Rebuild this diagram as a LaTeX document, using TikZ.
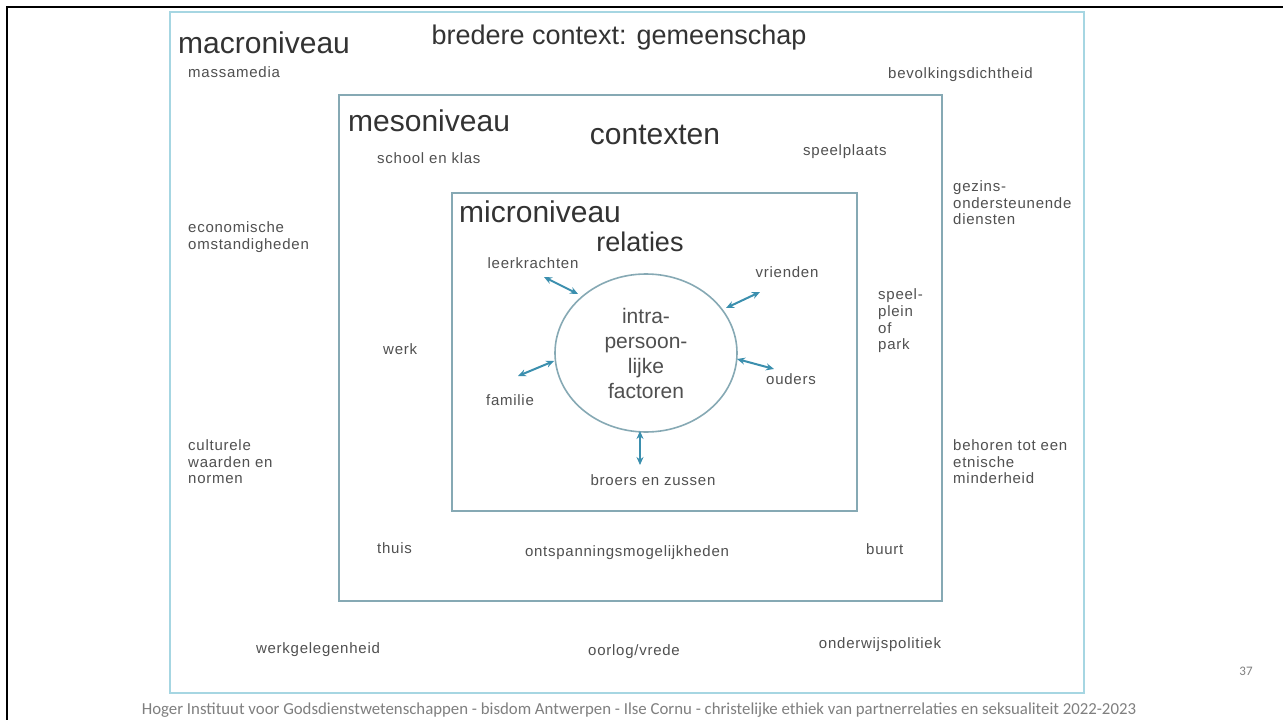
\documentclass[tikz,border=0pt]{standalone}
\usepackage{fontspec}
\setmainfont{Liberation Sans}
\newfontfamily\lblfont[LetterSpace=5]{Liberation Sans}
\newfontfamily\footfont{Carlito}
\usetikzlibrary{arrows.meta,shapes.geometric}
\definecolor{macroline}{HTML}{A6D6E2}
\definecolor{boxline}{HTML}{86A9B4}
\definecolor{arrowteal}{HTML}{3B8FAE}
\definecolor{titlegray}{HTML}{333333}
\definecolor{lblgray}{HTML}{505050}
\definecolor{footgray}{HTML}{7F7F7F}

\begin{document}
\begin{tikzpicture}[x=1pt,y=-1pt,
    title/.style={font=\fontsize{30}{34}\selectfont,text=titlegray,inner sep=0pt},
    head/.style={font=\fontsize{27}{30}\selectfont,text=titlegray,inner sep=0pt},
    lbl/.style={font=\lblfont\fontsize{15}{16.6}\selectfont,text=lblgray,inner sep=0pt,align=left},
    rel/.style={{Stealth[length=8pt,width=7pt]}-{Stealth[length=8pt,width=7pt]},draw=arrowteal,line width=2pt}]
  \useasboundingbox (0,0) rectangle (1283,720);
  \fill[white] (0,0) rectangle (1283,720);
  % slide frame
  \draw[line width=2pt] (7,720)--(7,7)--(1283,7);
  % the three levels
  \draw[macroline,line width=2pt] (170,12) rectangle (1084,693);
  \draw[boxline,line width=1.8pt] (339,95) rectangle (942,601);
  \draw[boxline,line width=1.8pt] (452,193) rectangle (857,511);
  % macro
  \node[title,anchor=west] (macro) at (178,43) {macroniveau};
  \node[head] (gemeenschap) at (619,38) {bredere context: gemeenschap};
  \node[lbl,anchor=west] (massamedia) at (188,72) {massamedia};
  \node[lbl,anchor=west] (bevolking) at (888,75) {bevolkingsdichtheid};
  \node[lbl,anchor=west] (economie) at (188,237) {economische\\omstandigheden};
  \node[lbl,anchor=west] (cultuur) at (188,462) {culturele\\waarden en\\normen};
  \node[lbl,anchor=west] (gezin) at (953,203) {gezins-\\ondersteunende\\diensten};
  \node[lbl,anchor=west] (etnisch) at (953,462) {behoren tot een\\etnische\\minderheid};
  \node[lbl] (werkgelegenheid) at (318,650) {werkgelegenheid};
  \node[lbl] (oorlog) at (634,652) {oorlog/vrede};
  \node[lbl] (onderwijs) at (880,645) {onderwijspolitiek};
  % meso
  \node[title,anchor=west] (meso) at (348,121) {mesoniveau};
  \node[title] (contexten) at (655,135) {contexten};
  \node[lbl,anchor=west] (school) at (377,158) {school en klas};
  \node[lbl,anchor=west] (speelplaats) at (803,152) {speelplaats};
  \node[lbl,anchor=west] (speelplein) at (878,321) {speel-\\plein\\of\\park};
  \node[lbl,anchor=west] (werk) at (383,349) {werk};
  \node[lbl,anchor=west] (thuis) at (377,548) {thuis};
  \node[lbl] (ontspanning) at (627,553) {ontspanningsmogelijkheden};
  \node[lbl,anchor=west] (buurt) at (866,549) {buurt};
  % micro
  \node[title,anchor=west] (micro) at (459,212) {microniveau};
  \node[head] (relaties) at (640,242) {relaties};
  \node[draw=boxline,line width=1.6pt,ellipse,minimum width=182pt,minimum height=158pt,inner sep=0pt] (kern) at (646,353) {};
  \node[align=center,font=\fontsize{21}{25}\selectfont,text=lblgray] (intra) at (646,353) {intra-\\persoon-\\lijke\\factoren};
  \node[lbl] (leerkrachten) at (533,263) {leerkrachten};
  \node[lbl] (vrienden) at (787,272) {vrienden};
  \node[lbl] (ouders) at (791,379) {ouders};
  \node[lbl] (familie) at (510,400) {familie};
  \node[lbl] (broers) at (653,480) {broers en zussen};
  \coordinate (lk1) at (544,277); \coordinate (lk2) at (578,294);
  \coordinate (vr1) at (726,308); \coordinate (vr2) at (760,292);
  \coordinate (ou1) at (737,359); \coordinate (ou2) at (774,369);
  \coordinate (fa1) at (554,361); \coordinate (fa2) at (518,376);
  \coordinate (br1) at (640,431); \coordinate (br2) at (640,465);
  \draw[rel] (lk1)--(lk2);
  \draw[rel] (vr1)--(vr2);
  \draw[rel] (ou1)--(ou2);
  \draw[rel] (fa1)--(fa2);
  \draw[rel] (br1)--(br2);
  % footer
  \node[font=\footfont\fontsize{16.8}{19}\selectfont,text=footgray,inner sep=0pt] (footer) at (639,710) {Hoger Instituut voor Godsdienstwetenschappen - bisdom Antwerpen - Ilse Cornu - christelijke ethiek van partnerrelaties en seksualiteit 2022-2023};
  \node[font=\footfont\fontsize{13}{15}\selectfont,text=footgray,inner sep=0pt] (slidenr) at (1246,671) {37};
\end{tikzpicture}
\end{document}
